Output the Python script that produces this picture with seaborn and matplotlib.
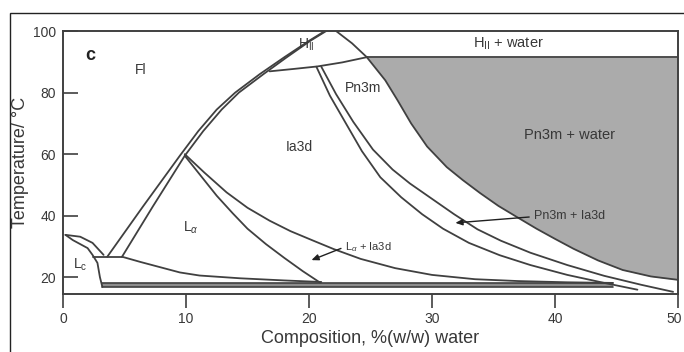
import matplotlib
matplotlib.use("Agg")
import matplotlib.pyplot as plt
import matplotlib.transforms as mtransforms
import numpy as np
import pandas as pd
import seaborn as sns
from matplotlib.patches import Rectangle

# ---------------- data ----------------
x_ticks = [0, 10, 20, 30, 40, 50]
y_ticks = [20, 40, 60, 80, 100]

# Fl / cubic two-phase boundaries (double line)
fl_left_x = [3.6, 6.5, 9.5, 11.0, 12.5, 14.0, 16.0, 18.0, 20.0, 21.3]
fl_left_T = [26.7, 43.0, 59.5, 67.5, 74.5, 80.0, 86.0, 91.5, 96.8, 100.0]
fl_right_x = [4.8, 7.3, 9.9, 11.4, 12.9, 14.3, 16.3, 18.2, 20.1, 21.4]
fl_right_T = [26.7, 43.0, 59.5, 67.5, 74.5, 80.0, 86.0, 91.5, 96.8, 100.0]

# Lc region
lc_upper_x = [0.2, 1.4, 2.4, 3.3]
lc_upper_T = [33.8, 33.2, 31.2, 27.3]
lc_lower_x = [0.2, 0.8, 2.0, 2.4, 2.8, 3.0, 3.2]
lc_lower_T = [33.8, 32.1, 29.5, 27.3, 24.7, 20.1, 16.9]

# three-phase line and bottom of L_alpha
tp_x = [2.4, 4.8]
tp_T = [26.7, 26.7]
la_bottom_x = [4.8, 6.3, 7.9, 9.5, 11.1, 14.4, 18.0, 21.0]
la_bottom_T = [26.7, 25.0, 23.3, 21.6, 20.6, 19.7, 19.0, 18.5]

# L_alpha right boundary and Ia3d left boundary
la_right_x = [9.9, 11.2, 12.5, 13.8, 15.0, 16.5, 18.0, 19.5, 20.9]
la_right_T = [59.5, 53.0, 46.5, 40.8, 35.8, 30.8, 26.3, 22.0, 18.3]
ia_left_x = [9.9, 11.5, 13.3, 15.0, 16.8, 18.5, 20.3, 22.0, 24.2, 27.0, 30.0, 33.5, 37.0, 41.0, 44.7]
ia_left_T = [60.0, 54.0, 47.6, 42.6, 38.4, 35.0, 32.0, 29.2, 26.0, 23.0, 20.8, 19.4, 18.8, 18.4, 18.2]

# H_II region
hii_bottom_x = [16.8, 18.8, 20.7, 22.7, 24.7]
hii_bottom_T = [86.9, 87.7, 88.5, 89.8, 91.5]
hii_right_x = [22.2, 23.5, 24.7]
hii_right_T = [100.0, 96.0, 91.5]
hw_bottom_x = [24.7, 50.0]
hw_bottom_T = [91.5, 91.5]

# Ia3d | Pn3m+Ia3d and Pn3m+Ia3d | Pn3m
ia_right_x = [20.6, 21.7, 23.0, 24.3, 25.8, 27.5, 29.2, 30.9, 33.0, 35.5, 38.0, 41.0, 44.0, 46.7]
ia_right_T = [88.4, 79.0, 70.0, 61.0, 52.5, 46.0, 40.5, 35.8, 31.2, 27.2, 24.0, 20.8, 18.2, 16.0]
pn_left_x = [21.0, 22.2, 23.6, 25.2, 26.8, 28.2, 30.0, 31.8, 33.7, 35.6, 38.0, 41.0, 44.0, 47.0, 49.6]
pn_left_T = [88.4, 79.5, 70.5, 61.5, 55.0, 50.5, 45.5, 40.5, 35.6, 31.9, 28.0, 24.0, 20.5, 17.6, 15.3]

# Pn3m | Pn3m + water (grey region)
gray_x = [24.7, 25.4, 26.2, 27.2, 28.3, 29.6, 31.2, 32.5, 33.9, 35.4, 36.9, 38.5, 40.0, 41.5, 43.5, 45.5, 47.8, 50.0]
gray_T = [91.5, 88.0, 84.0, 77.5, 70.0, 62.5, 55.8, 51.6, 47.4, 43.2, 39.6, 35.8, 32.5, 29.3, 25.5, 22.4, 20.3, 19.2]

# low-temperature band
band_x = [3.2, 44.7]
band_low = [16.9, 16.9]
band_high = [18.2, 18.2]

curves = {
    "fl_left": (fl_left_x, fl_left_T),
    "fl_right": (fl_right_x, fl_right_T),
    "lc_upper": (lc_upper_x, lc_upper_T),
    "lc_lower": (lc_lower_x, lc_lower_T),
    "tp": (tp_x, tp_T),
    "la_bottom": (la_bottom_x, la_bottom_T),
    "la_right": (la_right_x, la_right_T),
    "ia_left": (ia_left_x, ia_left_T),
    "hii_bottom": (hii_bottom_x, hii_bottom_T),
    "hii_right": (hii_right_x, hii_right_T),
    "hw_bottom": (hw_bottom_x, hw_bottom_T),
    "ia_right": (ia_right_x, ia_right_T),
    "pn_left": (pn_left_x, pn_left_T),
    "gray": (gray_x, gray_T),
}
rows = []
for name, (xs, ts) in curves.items():
    for i, (xv, tv) in enumerate(zip(xs, ts)):
        rows.append({"curve": name, "order": i, "x": xv, "T": tv})
df = pd.DataFrame(rows)

# ---------------- style ----------------
sns.set_theme(style="ticks")
plt.rcParams["font.family"] = ["Liberation Sans", "DejaVu Sans"]
plt.rcParams["mathtext.fontset"] = "custom"
plt.rcParams["mathtext.rm"] = "Liberation Sans"
plt.rcParams["mathtext.it"] = "Liberation Sans:italic"
plt.rcParams["mathtext.bf"] = "Liberation Sans:bold"

LINE = "#404040"
TXT = "#383838"
GREY = "#ababab"

fig = plt.figure(figsize=(6.84, 3.52), dpi=100)
ax = fig.add_axes([63 / 684, 1 - 294 / 352, (678 - 63) / 684, (294 - 31) / 352])

# grey two-phase region
ax.fill_between(gray_x, gray_T, hw_bottom_T[0], color=GREY, lw=0, zorder=1)
# bottom band
ax.fill_between(band_x, band_low, band_high, color="#8e8e8e", lw=0, zorder=1)
for arr in (band_low, band_high):
    sns.lineplot(x=band_x, y=arr, color=LINE, lw=1.2, ax=ax, legend=False, zorder=3)

sns.lineplot(data=df, x="x", y="T", units="curve", estimator=None, sort=False,
             color=LINE, lw=1.3, ax=ax, legend=False, zorder=3)

ax.set_xlim(0, 50)
ax.set_ylim(14.6, 100)
ax.set_xticks(x_ticks)
ax.set_yticks(y_ticks)
ax.tick_params(axis="y", direction="in", length=11, width=1.2, color=LINE,
               labelsize=10, labelcolor=TXT, pad=5)
ax.tick_params(axis="x", direction="out", length=10, width=1.2, color=LINE,
               labelsize=10, labelcolor=TXT, pad=3)
for s in ax.spines.values():
    s.set_color(LINE)
    s.set_linewidth(1.4)
    s.set_visible(True)
ax.set_xlabel("Composition, %(w/w) water", fontsize=13, color=TXT, labelpad=3)
ax.set_ylabel("Temperature/ °C", fontsize=13, color=TXT, labelpad=3)

# keep the last x tick label inside the picture
last = ax.get_xticklabels()[-1]
last.set_transform(last.get_transform() + mtransforms.ScaledTranslation(-4 / 100, 0, fig.dpi_scale_trans))

# region labels
ax.text(2.2, 92.2, "c", fontsize=13, fontweight="bold", color="#222222", ha="center", va="center")
ax.text(6.3, 87.3, "Fl", fontsize=10, color=TXT, ha="center", va="center")
ax.text(19.8, 95.6, r"H$_{\rm II}$", fontsize=10, color=TXT, ha="center", va="center")
ax.text(36.2, 96.0, r"H$_{\rm II}$ + water", fontsize=10.5, color=TXT, ha="center", va="center")
ax.text(24.4, 81.5, "Pn3m", fontsize=10, color=TXT, ha="center", va="center")
ax.text(19.2, 62.4, "Ia3d", fontsize=10, color=TXT, ha="center", va="center")
ax.text(41.2, 66.2, "Pn3m + water", fontsize=10.5, color=TXT, ha="center", va="center")
ax.text(10.4, 36.0, r"L$_{\alpha}$", fontsize=10, color=TXT, ha="center", va="center")
ax.text(1.4, 24.0, r"L$_{\rm c}$", fontsize=10, color=TXT, ha="center", va="center")
ax.text(22.9, 29.8, r"L$_{\alpha}$ + Ia3d", fontsize=8, color=TXT, ha="left", va="center")
ax.text(38.3, 39.8, "Pn3m + Ia3d", fontsize=9, color=TXT, ha="left", va="center")

arrow = dict(arrowstyle="-|>,head_length=0.35,head_width=0.15", color="#202020", lw=1.0,
             shrinkA=0, shrinkB=0)
ax.annotate("", xy=(20.2, 25.6), xytext=(22.6, 29.4), arrowprops=arrow)
ax.annotate("", xy=(31.9, 37.7), xytext=(37.9, 39.6), arrowprops=arrow)

# outer frame of the panel
fig.add_artist(Rectangle((10 / 684, -0.05), 1.0, 1 - 13 / 352 + 0.05, transform=fig.transFigure,
                         fill=False, edgecolor="#222222", lw=1.0))

fig.savefig("out.png", dpi=100)
